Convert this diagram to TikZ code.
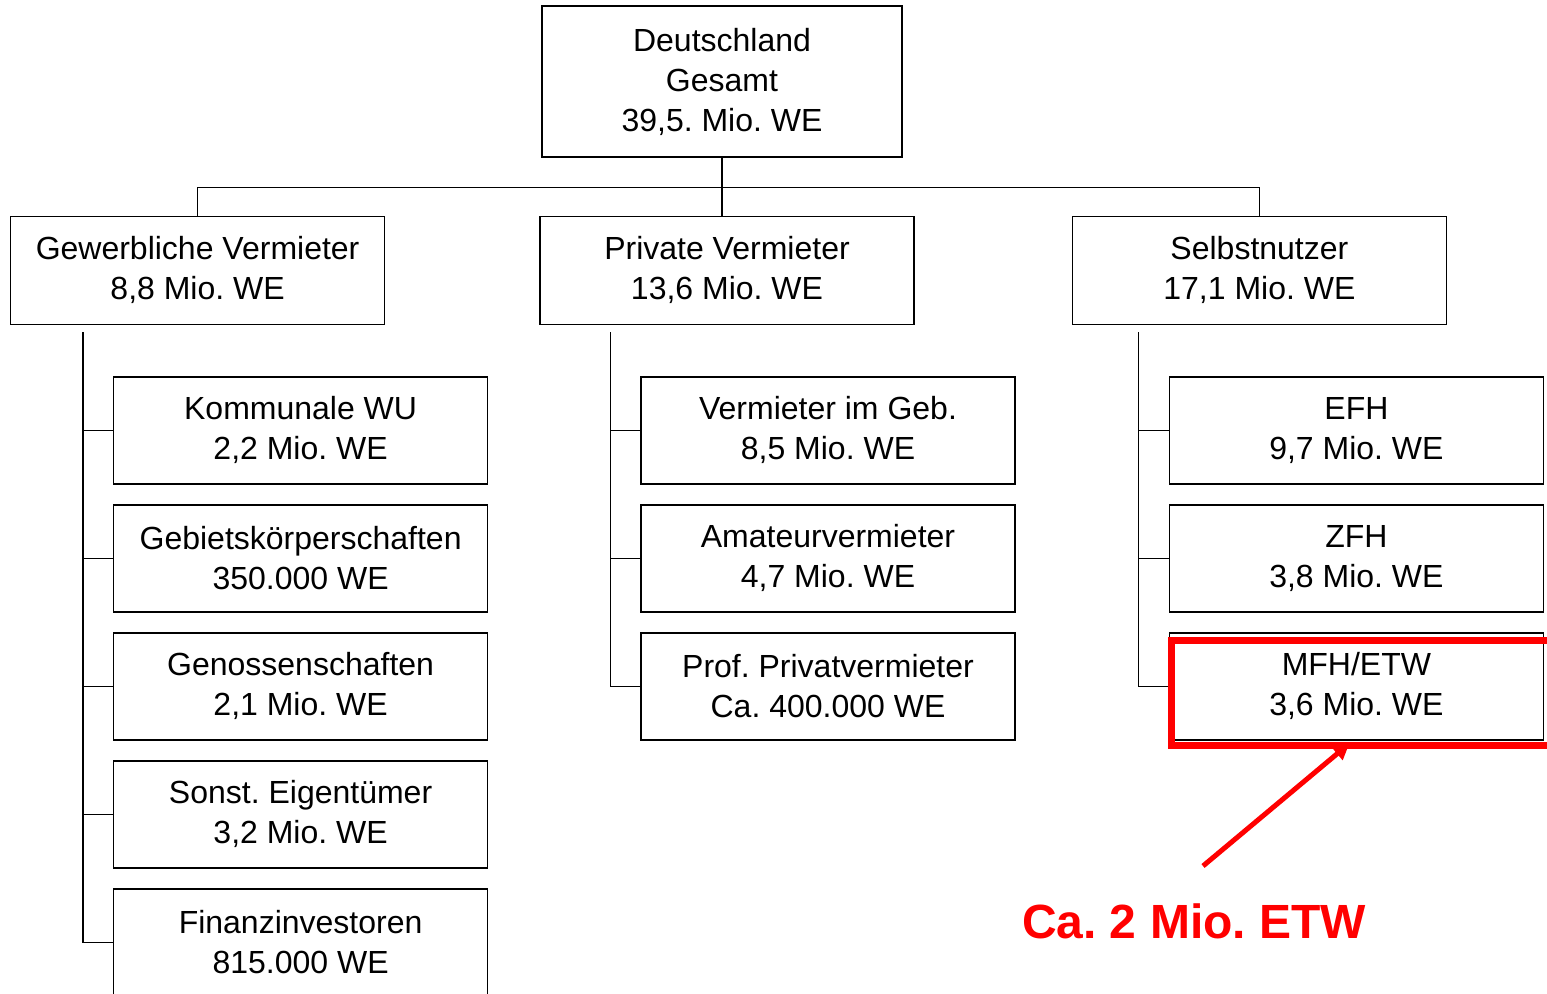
\documentclass[tikz,border=0pt]{standalone}
\usepackage{fontspec}
\setmainfont{Liberation Sans}
\frenchspacing
\usetikzlibrary{arrows.meta,positioning}
\definecolor{alert}{HTML}{FF0000}
\tikzset{
  box/.style={draw=black, line width=0.7pt, align=center, font=\fontsize{16}{20}\selectfont, inner sep=0pt, minimum width=187pt, minimum height=53.5pt},
  headbox/.style={box, minimum width=180pt, minimum height=75.5pt},
  groupbox/.style={box, minimum height=54pt},
  itembox/.style={box},
  treeline/.style={draw=black, line width=0.7pt},
  redframe/.style={draw=alert, line width=3.5pt},
  redarrow/.style={-{Triangle[length=8pt,width=8pt]}, line width=2.5pt, draw=alert},
  remark/.style={font=\fontsize{24}{28}\selectfont\bfseries, text=alert, inner sep=0pt}
}

\begin{document}
\begin{tikzpicture}[node distance=9.8pt and 77pt]
\useasboundingbox (0,0) rectangle (773.5pt,-496.5pt);
\node[headbox] (total) at (361pt,-40.75pt) {Deutschland\\Gesamt\\39,5. Mio. WE};
\node[groupbox, below=29pt of total, xshift=2.5pt] (private) {Private Vermieter\\13,6 Mio. WE};
\node[groupbox, left=77pt of private] (commercial) {Gewerbliche Vermieter\\8,8 Mio. WE};
\node[groupbox, right=78.5pt of private] (owner) {Selbstnutzer\\17,1 Mio. WE};
% gewerbliche Vermieter
\node[itembox, below=25.5pt of commercial, xshift=51.5pt] (kwu) {Kommunale WU\\2,2 Mio. WE};
\node[itembox, below=of kwu] (gebiet) {Gebietskörperschaften\\350.000 WE};
\node[itembox, below=of gebiet] (geno) {Genossenschaften\\2,1 Mio. WE};
\node[itembox, below=of geno] (sonst) {Sonst. Eigentümer\\3,2 Mio. WE};
\node[itembox, below=of sonst] (finanz) {Finanzinvestoren\\815.000 WE};
% private Vermieter
\node[itembox, below=25.5pt of private, xshift=50.5pt] (geb) {Vermieter im Geb.\\8,5 Mio. WE};
\node[itembox, below=of geb] (amateur) {Amateurvermieter\\4,7 Mio. WE};
\node[itembox, below=of amateur] (prof) {Prof. Privatvermieter\\Ca. 400.000 WE};
% Selbstnutzer
\node[itembox, below=25.5pt of owner, xshift=48.5pt] (efh) {EFH\\9,7 Mio. WE};
\node[itembox, below=of efh] (zfh) {ZFH\\3,8 Mio. WE};
\node[itembox, below=of zfh] (mfh) {MFH/ETW\\3,6 Mio. WE};
\node[remark] (etw) at (597pt,-460.5pt) {Ca. 2 Mio. ETW};
\draw[treeline] (total.south) -- (total.south |- private.north);
\draw[treeline] (commercial.north) -- ++(0,14pt) -| (owner.north);
\draw[treeline] (commercial.south -| kwu.west) ++(-15pt,-3.5pt) |- (finanz.west);
\draw[treeline] (kwu.west) -- ++(-15pt,0);
\draw[treeline] (gebiet.west) -- ++(-15pt,0);
\draw[treeline] (geno.west) -- ++(-15pt,0);
\draw[treeline] (sonst.west) -- ++(-15pt,0);
\draw[treeline] (private.south -| geb.west) ++(-15pt,-3.5pt) |- (prof.west);
\draw[treeline] (geb.west) -- ++(-15pt,0);
\draw[treeline] (amateur.west) -- ++(-15pt,0);
\draw[treeline] (owner.south -| efh.west) ++(-15pt,-3.5pt) |- (mfh.west);
\draw[treeline] (efh.west) -- ++(-15pt,0);
\draw[treeline] (zfh.west) -- ++(-15pt,0);
\draw[redframe] ([shift={(1.25pt,-4pt)}]mfh.north west) rectangle ([shift={(3.5pt,-2.5pt)}]mfh.south east);
\coordinate (tail) at ([xshift=4.5pt,yshift=18.5pt]etw.north);
\coordinate (tip) at ([shift={(-3.5pt,-1.5pt)}]mfh.south);
\draw[redarrow] (tail) -- (tip);
\end{tikzpicture}
\end{document}
